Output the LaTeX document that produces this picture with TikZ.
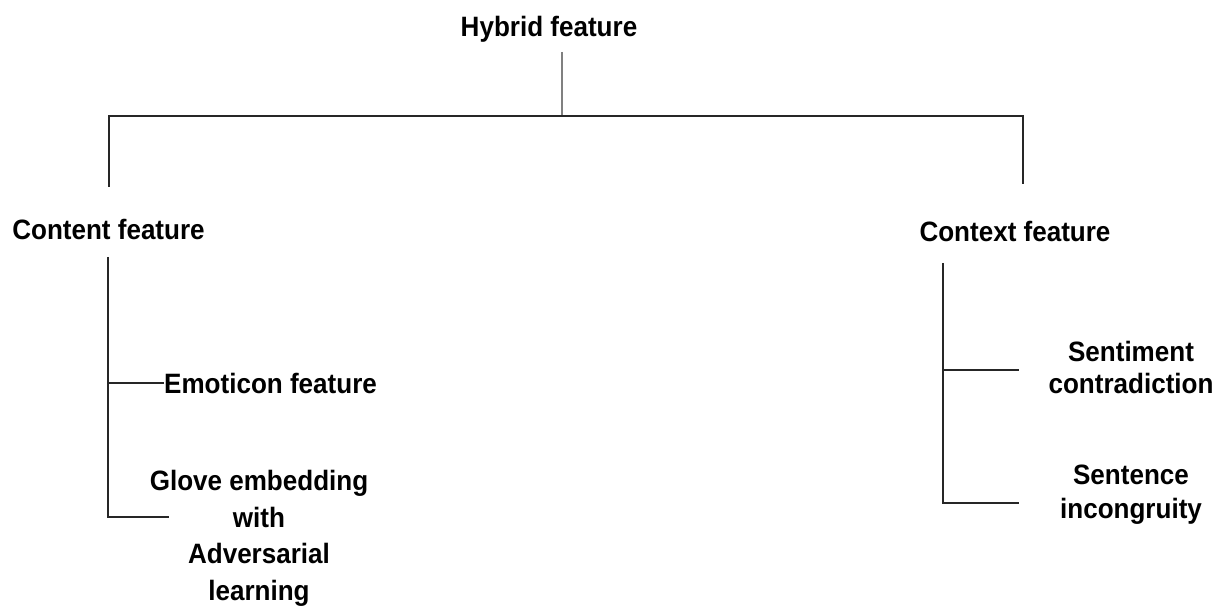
\documentclass[tikz,border=0pt]{standalone}
\usepackage{fontspec}
\setmainfont[FakeStretch=0.93]{Liberation Sans}
\begin{document}
\begin{tikzpicture}[x=1pt,y=-1pt,
  lbl/.style={font=\bfseries\fontsize{28}{34}\selectfont, inner sep=0pt, align=center},
  link/.style={draw=black!85, line width=1.1pt},
  stem/.style={draw=black!50, line width=1.1pt}]
  \path[use as bounding box] (0,0) rectangle (1226,609);

  % labels (multi-line labels are placed by the baseline of their last line)
  \node[lbl, anchor=base] (hyb) at (549,37) {Hybrid feature};
  \node[lbl, anchor=base] (cont) at (108.5,240) {Content feature};
  \node[lbl, anchor=base] (ctx) at (1015,242) {Context feature};
  \node[lbl, anchor=base west] (emo) at (164,393) {Emoticon feature};
  \node[lbl, anchor=base, font=\bfseries\fontsize{28}{36.5}\selectfont] (glove) at (259,600)
    {Glove embedding\\with\\Adversarial\\learning};
  \node[lbl, anchor=base, font=\bfseries\fontsize{28}{32}\selectfont] (senti) at (1131,393)
    {Sentiment\\contradiction};
  \node[lbl, anchor=base] (incon) at (1131,518) {Sentence\\incongruity};

  % junction points of the tree
  \coordinate (hybTop) at (562,52);
  \coordinate (hybBus) at (562,116);
  \coordinate (busL) at (109,116);
  \coordinate (busR) at (1023,116);
  \coordinate (contUp) at (109,187);
  \coordinate (ctxUp) at (1023,184);
  \coordinate (contDown) at (108,257);
  \coordinate (emoJ) at (108,383);
  \coordinate (gloveJ) at (108,517);
  \coordinate (gloveEnd) at (169,517);
  \coordinate (ctxDown) at (943,263);
  \coordinate (sentiJ) at (943,370);
  \coordinate (sentiEnd) at (1019,370);
  \coordinate (inconJ) at (943,503);
  \coordinate (inconEnd) at (1019,503);

  % connectors
  \draw[stem] (hybTop) -- (hybBus);
  \draw[link] (contUp) -- (busL) -- (busR) -- (ctxUp);
  \draw[link] (contDown) -- (gloveJ) -- (gloveEnd);
  \draw[link] (emoJ) -- (emo.west |- emoJ);
  \draw[link] (ctxDown) -- (inconJ) -- (inconEnd);
  \draw[link] (sentiJ) -- (sentiEnd);
\end{tikzpicture}
\end{document}
